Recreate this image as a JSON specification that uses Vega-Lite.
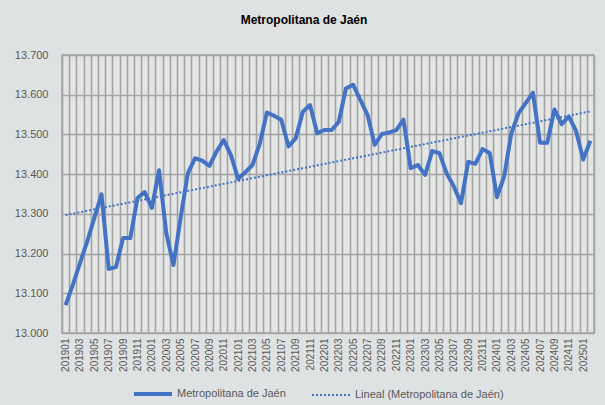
{
  "$schema": "https://vega.github.io/schema/vega-lite/v6.json",
  "width": 532,
  "height": 278,
  "autosize": {"type": "none"},
  "padding": {"left": 62, "top": 55, "right": 11, "bottom": 72},
  "background": "#dfe2e2",
  "config": {
    "locale": {"number": {"decimal": ",", "thousands": ".", "grouping": [3], "currency": ["", " €"]}},
    "font": "Liberation Sans",
    "view": {"stroke": "#a6a6a6", "strokeWidth": 1.5, "fill": "#e4e6e6"}
  },
  "title": {
    "text": "Metropolitana de Jaén",
    "fontSize": 12,
    "fontWeight": "bold",
    "color": "#000000",
    "anchor": "middle",
    "dx": -24,
    "offset": 22
  },
  "datasets": {
    "serie": [
      {"mes": "201901", "valor": 13070}, {"mes": "201902", "valor": 13121}, {"mes": "201903", "valor": 13176},
      {"mes": "201904", "valor": 13230}, {"mes": "201905", "valor": 13290}, {"mes": "201906", "valor": 13349},
      {"mes": "201907", "valor": 13161}, {"mes": "201908", "valor": 13166}, {"mes": "201909", "valor": 13239},
      {"mes": "201910", "valor": 13239}, {"mes": "201911", "valor": 13340}, {"mes": "201912", "valor": 13355},
      {"mes": "202001", "valor": 13315}, {"mes": "202002", "valor": 13410}, {"mes": "202003", "valor": 13252},
      {"mes": "202004", "valor": 13171}, {"mes": "202005", "valor": 13290}, {"mes": "202006", "valor": 13402},
      {"mes": "202007", "valor": 13440}, {"mes": "202008", "valor": 13434}, {"mes": "202009", "valor": 13421},
      {"mes": "202010", "valor": 13457}, {"mes": "202011", "valor": 13486}, {"mes": "202012", "valor": 13448},
      {"mes": "202101", "valor": 13388}, {"mes": "202102", "valor": 13405}, {"mes": "202103", "valor": 13423},
      {"mes": "202104", "valor": 13476}, {"mes": "202105", "valor": 13555}, {"mes": "202106", "valor": 13547},
      {"mes": "202107", "valor": 13537}, {"mes": "202108", "valor": 13470}, {"mes": "202109", "valor": 13490},
      {"mes": "202110", "valor": 13557}, {"mes": "202111", "valor": 13574}, {"mes": "202112", "valor": 13503},
      {"mes": "202201", "valor": 13511}, {"mes": "202202", "valor": 13511}, {"mes": "202203", "valor": 13532},
      {"mes": "202204", "valor": 13616}, {"mes": "202205", "valor": 13625}, {"mes": "202206", "valor": 13587},
      {"mes": "202207", "valor": 13549}, {"mes": "202208", "valor": 13474}, {"mes": "202209", "valor": 13501},
      {"mes": "202210", "valor": 13505}, {"mes": "202211", "valor": 13511}, {"mes": "202212", "valor": 13537},
      {"mes": "202301", "valor": 13415}, {"mes": "202302", "valor": 13423}, {"mes": "202303", "valor": 13398},
      {"mes": "202304", "valor": 13458}, {"mes": "202305", "valor": 13453}, {"mes": "202306", "valor": 13402},
      {"mes": "202307", "valor": 13369}, {"mes": "202308", "valor": 13327}, {"mes": "202309", "valor": 13431},
      {"mes": "202310", "valor": 13426}, {"mes": "202311", "valor": 13463}, {"mes": "202312", "valor": 13453},
      {"mes": "202401", "valor": 13342}, {"mes": "202402", "valor": 13394}, {"mes": "202403", "valor": 13503},
      {"mes": "202404", "valor": 13553}, {"mes": "202405", "valor": 13579}, {"mes": "202406", "valor": 13605},
      {"mes": "202407", "valor": 13479}, {"mes": "202408", "valor": 13479}, {"mes": "202409", "valor": 13563},
      {"mes": "202410", "valor": 13526}, {"mes": "202411", "valor": 13545}, {"mes": "202412", "valor": 13509},
      {"mes": "202501", "valor": 13437}, {"mes": "202502", "valor": 13484}
    ],
    "tendencia": [
      {"mes": "201901", "valor": 13297},
      {"mes": "202502", "valor": 13558}
    ]
  },
  "encoding": {
    "x": {
      "field": "mes",
      "type": "ordinal",
      "bandPosition": 0.5,
      "sort": null,
      "scale": {"type": "band", "paddingInner": 0, "paddingOuter": 0},
      "axis": {
        "title": null,
        "labelAngle": -90,
        "labelAlign": "right",
        "labelBaseline": "middle",
        "labelFontSize": 10,
        "labelColor": "#595959",
        "labelPadding": 5,
        "labelOverlap": false,
        "labelExpr": "parseInt(substring(datum.label, 4, 6)) % 2 == 1 ? datum.label : ''",
        "tickBand": "extent",
        "ticks": true,
        "tickSize": 0,
        "grid": true,
        "gridColor": "#a3a3a3",
        "gridWidth": 1.6,
        "domain": false
      }
    },
    "y": {
      "field": "valor",
      "type": "quantitative",
      "scale": {"domain": [13000, 13700], "zero": false, "nice": false},
      "axis": {
        "title": null,
        "values": [13000, 13100, 13200, 13300, 13400, 13500, 13600, 13700],
        "format": ",.0f",
        "labelFontSize": 11,
        "labelColor": "#595959",
        "labelPadding": 14,
        "labelOverlap": false,
        "labelFlush": false,
        "ticks": false,
        "grid": true,
        "gridColor": "#a3a3a3",
        "gridWidth": 1.6,
        "domain": false
      }
    }
  },
  "layer": [
    {
      "data": {"name": "serie"},
      "mark": {"type": "line", "strokeJoin": "round"},
      "encoding": {
        "color": {
          "datum": "Metropolitana de Jaén",
          "scale": {"domain": ["Metropolitana de Jaén", "Lineal (Metropolitana de Jaén)"], "range": ["#4472c4", "#4472c4"]},
          "legend": {
            "title": null,
            "orient": "none",
            "legendX": 70,
            "legendY": 318,
            "direction": "horizontal",
            "columns": 2,
            "columnPadding": 22,
            "symbolType": "stroke",
            "symbolSize": 1444,
            "labelFontSize": 11,
            "labelColor": "#595959",
            "labelOffset": 3,
            "padding": 0
          }
        },
        "strokeDash": {
          "datum": "Metropolitana de Jaén",
          "scale": {"domain": ["Metropolitana de Jaén", "Lineal (Metropolitana de Jaén)"], "range": [[1, 0], [2, 2]]}
        },
        "strokeWidth": {
          "datum": "Metropolitana de Jaén",
          "scale": {"domain": ["Metropolitana de Jaén", "Lineal (Metropolitana de Jaén)"], "range": [4, 2]}
        }
      }
    },
    {
      "data": {"name": "tendencia"},
      "mark": {"type": "line", "strokeCap": "butt"},
      "encoding": {
        "color": {"datum": "Lineal (Metropolitana de Jaén)"},
        "strokeDash": {"datum": "Lineal (Metropolitana de Jaén)"},
        "strokeWidth": {"datum": "Lineal (Metropolitana de Jaén)"}
      }
    }
  ]
}
